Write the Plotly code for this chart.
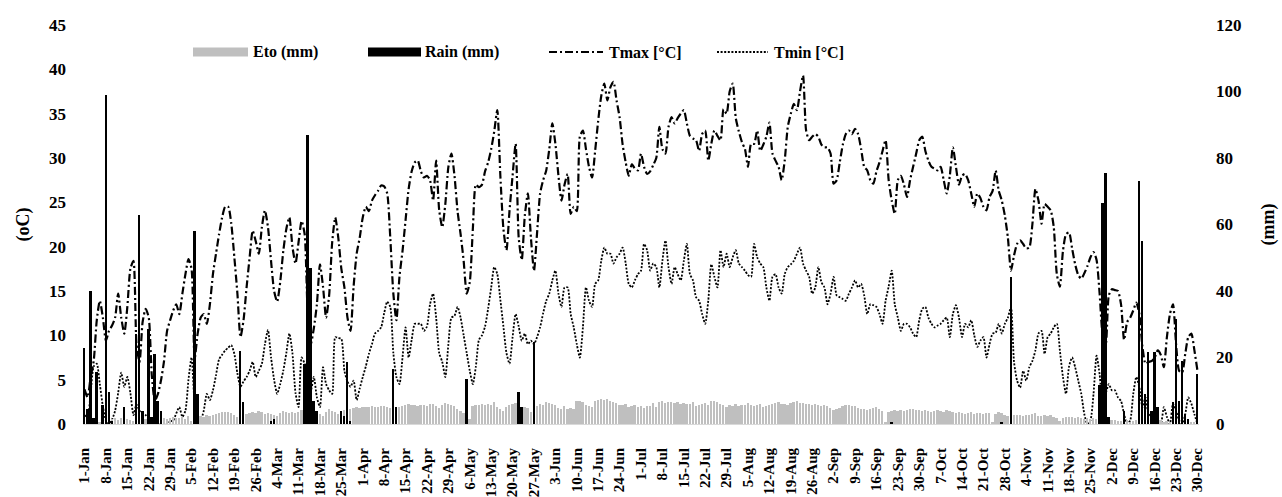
import pandas as pd
import plotly.graph_objects as go

# ---------------- data ----------------
START = "2020-01-01"
N_DAYS = 365
DATES = pd.date_range(START, periods=N_DAYS, freq="D")

TMAX = [
    3.9, 3.0, 5.3, 7.1, 11.7, 13.9, 12.0, 9.4, 10.5, 11.1,
    12.0, 14.7, 12.0, 10.2, 13.2, 17.5, 18.4, 9.0, 7.0, 11.5,
    13.0, 12.0, 5.5, 2.6, 3.4, 4.9, 7.1, 10.5, 11.7, 12.8,
    13.5, 12.4, 14.7, 16.9, 18.6, 17.5, 7.3, 10.2, 12.0, 12.4,
    11.3, 13.5, 16.9, 19.2, 21.4, 23.3, 24.5, 24.5, 22.6, 18.8,
    14.7, 9.8, 11.7, 15.4, 18.8, 21.8, 20.6, 19.2, 22.2, 24.1,
    22.2, 18.4, 15.0, 13.8, 16.0, 19.5, 22.0, 23.3, 20.0, 18.1,
    20.5, 22.9, 21.4, 12.4, 9.0, 10.8, 13.5, 18.0, 15.5, 12.0,
    14.5, 20.5, 23.3, 21.0, 17.5, 15.4, 12.0, 10.5, 15.5, 19.2,
    21.0, 23.3, 24.5, 24.0, 25.2, 25.8, 26.3, 26.9, 26.8, 26.0,
    21.0, 14.7, 11.7, 16.6, 19.5, 23.0, 26.5, 28.5, 29.5, 29.7,
    28.5, 27.8, 28.0, 27.5, 25.2, 29.7, 24.1, 22.2, 24.8, 29.0,
    30.5, 28.0, 24.0, 21.4, 18.4, 14.7, 16.0, 22.0, 27.0, 26.7,
    27.0, 28.5, 29.5, 31.0, 33.0, 35.4, 28.0, 22.0, 19.6, 24.1,
    28.0, 31.6, 21.0, 18.5, 23.5, 26.0, 21.0, 17.3, 21.5, 26.0,
    27.5, 28.6, 31.0, 33.9, 31.6, 28.0, 25.2, 27.0, 28.2, 23.7,
    24.5, 24.0, 32.4, 33.1, 31.0, 29.0, 27.8, 30.8, 34.2, 37.0,
    38.4, 36.5, 38.0, 38.6, 36.5, 34.6, 31.5, 29.5, 28.0, 29.3,
    28.8, 28.6, 30.5, 29.0, 28.2, 28.5, 29.2, 30.0, 33.5, 31.0,
    30.5, 33.5, 34.6, 33.9, 34.5, 35.0, 35.4, 33.9, 32.5, 32.2,
    32.0, 30.8, 32.7, 33.1, 29.7, 31.6, 33.1, 32.5, 32.0, 35.5,
    35.0, 37.5, 38.4, 34.5, 33.0, 31.8, 31.0, 29.0, 31.6, 31.6,
    33.1, 30.8, 31.5, 32.4, 34.0, 30.5, 29.7, 29.0, 27.5, 29.7,
    33.5, 35.0, 36.1, 35.4, 37.5, 39.3, 33.1, 32.0, 32.4, 32.7,
    32.4, 31.5, 31.2, 31.2, 30.5, 27.1, 27.5, 29.5, 31.5, 32.7,
    33.1, 32.7, 33.3, 32.7, 31.0, 29.0, 28.6, 27.5, 27.1, 28.5,
    29.5, 30.8, 32.0, 27.5, 25.2, 23.7, 27.5, 28.0, 27.0, 25.6,
    27.5, 29.0, 30.5, 32.0, 32.4, 30.8, 29.7, 29.0, 28.8, 28.6,
    29.0, 27.5, 26.0, 28.0, 31.2, 29.0, 27.0, 28.0, 28.2, 27.5,
    26.0, 24.5, 26.0, 25.5, 24.5, 24.1, 25.6, 26.3, 28.6, 26.3,
    25.2, 23.5, 21.0, 17.3, 19.0, 20.3, 20.7, 20.3, 19.8, 19.9,
    22.5, 26.5, 25.2, 22.6, 24.8, 24.5, 24.1, 22.2, 16.9, 15.5,
    19.5, 21.4, 21.6, 19.8, 18.0, 16.8, 16.4, 17.0, 17.8, 18.8,
    19.4, 18.5, 14.7, 10.0, 9.0, 14.5, 15.2, 15.1, 15.0, 13.5,
    9.5, 11.5, 12.0, 12.8, 13.7, 12.4, 8.7, 6.8, 7.0, 7.1,
    7.5, 8.3, 7.8, 6.4, 9.8, 12.4, 13.5, 9.0, 6.0, 5.8,
    7.9, 9.8, 10.2, 8.3, 6.0,
]

TMIN = [
    1.0, 0.8, 3.5, 6.5, 6.8, 4.5, 2.0, 0.4, 0.0, 0.5,
    1.5, 3.5, 5.8, 4.2, 5.3, 3.5, 1.0, 2.2, 1.5, 1.2,
    1.0, 0.6, 0.4, 0.1, 0.0, 0.0, 0.1, 0.2, 0.3, 0.4,
    1.2, 1.9, 0.8, 1.5, 5.0, 7.5, 2.3, 0.0, 0.4, 1.5,
    3.4, 2.7, 3.8, 5.5, 7.3, 7.8, 8.3, 8.6, 8.9, 7.9,
    5.7, 4.2, 4.8, 5.3, 6.0, 7.0, 5.3, 6.0, 6.8, 9.0,
    10.6, 7.5, 5.0, 3.4, 4.5, 6.0, 8.0, 10.2, 8.0, 3.5,
    1.9, 7.5, 6.8, 4.5, 3.8, 5.3, 3.0, 1.9, 6.4, 4.5,
    3.8, 3.4, 9.8, 9.7, 9.6, 6.0, 4.8, 4.2, 4.9, 2.7,
    4.0, 5.3, 6.5, 7.9, 9.0, 10.2, 10.5, 10.9, 12.5, 13.8,
    13.2, 8.0, 5.3, 4.5, 7.5, 10.9, 7.5, 9.5, 11.3, 11.3,
    11.3, 10.5, 11.0, 13.5, 14.7, 12.0, 8.0, 7.0, 5.3, 9.0,
    12.0, 12.2, 13.2, 12.0, 10.0, 8.0, 6.0, 4.5, 6.5, 9.5,
    10.0, 11.0, 13.0, 15.4, 17.7, 16.9, 14.0, 11.0, 8.0, 6.8,
    9.8, 12.4, 11.0, 9.4, 10.2, 9.0, 9.4, 9.0, 9.8, 10.9,
    12.5, 13.9, 14.7, 16.2, 17.3, 14.7, 13.2, 15.4, 15.4, 12.4,
    10.9, 9.0, 7.5, 10.9, 15.4, 13.9, 13.2, 15.8, 16.2, 18.4,
    19.9, 19.2, 19.2, 18.1, 18.8, 19.2, 19.9, 18.1, 15.8, 15.4,
    16.2, 16.9, 17.3, 20.3, 19.6, 17.3, 18.1, 17.7, 15.4, 18.4,
    20.7, 17.7, 15.8, 17.7, 16.9, 16.2, 18.4, 20.3, 16.9, 16.2,
    14.3, 13.9, 12.4, 11.3, 13.9, 18.0, 16.6, 15.4, 19.6, 17.7,
    19.2, 17.7, 18.8, 19.6, 18.1, 17.7, 17.3, 16.8, 16.6, 20.3,
    18.8, 18.1, 17.7, 15.4, 13.9, 16.6, 16.9, 15.4, 14.7, 16.9,
    17.7, 18.0, 18.4, 19.2, 19.9, 18.1, 17.3, 16.6, 14.7, 15.4,
    17.7, 16.0, 15.4, 13.5, 14.7, 16.6, 14.5, 14.3, 14.1, 13.9,
    14.7, 15.4, 16.2, 15.4, 15.8, 14.5, 12.4, 13.5, 13.4, 13.2,
    12.4, 11.3, 13.9, 15.5, 17.3, 13.5, 12.0, 10.5, 11.3, 11.3,
    10.9, 10.2, 9.8, 11.7, 13.0, 13.2, 12.0, 11.3, 10.9, 11.1,
    11.3, 11.7, 12.0, 9.8, 12.4, 13.4, 12.0, 9.8, 11.3, 10.9,
    11.7, 10.0, 8.7, 9.4, 9.8, 7.5, 9.0, 10.2, 10.3, 11.3,
    10.2, 11.3, 12.0, 13.2, 7.0, 4.9, 4.1, 6.0, 4.9, 6.4,
    7.1, 8.3, 10.2, 10.5, 7.9, 9.8, 10.2, 10.9, 11.3, 8.3,
    5.3, 3.4, 6.5, 7.5, 6.4, 4.9, 3.4, 1.1, 0.0, 0.4,
    3.4, 7.7, 5.6, 1.9, 3.4, 4.5, 3.8, 3.8, 3.0, 2.6,
    1.1, 0.0, 0.4, 3.4, 5.3, 4.1, 1.9, 3.0, 1.1, 0.8,
    0.4, 0.0, 0.0, 1.9, 0.8, 0.0, 2.3, 1.5, 0.4, 0.0,
    1.1, 3.0, 2.3, 1.1, 0.0,
]

ETO = [
    1.2, 0.8, 1.5, 1.0, 1.4, 0.6, 1.3,
    0.5, 1.6, 1.4, 1.8, 1.2, 1.7, 1.9,
    1.5, 1.3, 0.8, 1.2, 1.6, 1.0, 1.4,
    0.6, 0.9, 1.5, 1.7, 1.4, 1.9, 1.6,
    1.8, 2.0, 1.7, 1.9, 2.2, 1.5, 2.4,
    0.8, 1.2, 1.9, 2.3, 2.1, 2.6, 2.4,
    2.8, 3.0, 3.3, 3.6, 3.7, 3.5, 3.2,
    2.6, 2.2, 2.0, 2.5, 3.0, 3.3, 3.6,
    3.2, 3.8, 3.5, 3.0, 3.4, 3.1, 2.6,
    2.4, 3.4, 3.8, 3.6, 3.2, 3.5, 3.3,
    3.7, 4.1, 2.5, 1.5, 3.0, 3.8, 3.5,
    2.9, 2.5, 3.5, 4.6, 4.0, 3.5, 3.0,
    3.6, 4.2, 1.8, 4.6, 4.9, 5.0, 4.8,
    5.1, 5.0, 5.2, 5.3, 5.0, 5.2, 5.4,
    5.4, 5.2, 4.8, 1.6, 4.5, 5.0, 5.3,
    5.7, 5.9, 5.6, 5.8, 5.4, 5.7, 5.6,
    5.5, 5.9, 6.0, 5.4, 4.8, 5.6, 6.2,
    6.0, 5.8, 5.3, 4.5, 4.0, 3.2, 0.8,
    1.5, 5.5, 5.8, 5.6, 5.9, 5.7, 6.0,
    5.6, 6.5, 5.2, 4.5, 3.8, 5.0, 5.6,
    5.9, 6.4, 2.5, 3.2, 5.0, 4.8, 3.5,
    1.2, 5.5, 6.0, 5.8, 6.5, 6.3, 5.9,
    5.6, 4.8, 4.5, 5.5, 4.6, 4.7, 4.6,
    7.0, 6.8, 6.5, 5.8, 5.4, 5.2, 6.8,
    7.3, 7.5, 7.2, 7.6, 7.0, 6.5, 6.2,
    5.8, 5.6, 5.9, 5.2, 5.5, 5.8, 5.0,
    5.4, 4.8, 5.3, 5.5, 6.2, 5.0, 6.6,
    6.8, 6.4, 6.6, 6.7, 6.3, 6.5, 6.0,
    6.2, 5.9, 6.1, 6.6, 5.4, 5.6, 6.1,
    6.3, 5.8, 6.9, 7.0, 6.6, 5.9, 5.8,
    5.2, 5.6, 5.4, 6.0, 5.4, 5.8, 5.6,
    6.3, 5.7, 5.3, 5.6, 6.0, 5.1, 5.4,
    5.6, 5.9, 6.3, 6.5, 6.0, 5.9, 5.6,
    6.3, 6.6, 6.9, 6.2, 6.4, 6.1, 6.0,
    5.6, 5.9, 5.8, 5.4, 5.7, 5.3, 4.8,
    4.2, 4.4, 4.8, 5.4, 5.8, 5.6, 5.5,
    5.4, 4.7, 4.6, 4.5, 4.3, 4.6, 4.9,
    5.0, 4.4, 4.0, 0.6, 3.5, 4.0, 4.2,
    3.9, 4.2, 3.8, 4.3, 4.6, 4.4, 4.3,
    4.1, 4.0, 4.2, 3.8, 3.5, 3.9, 4.2,
    4.0, 3.7, 4.1, 3.9, 3.5, 3.2, 3.5,
    3.3, 3.0, 3.2, 3.5, 3.1, 3.3, 3.4,
    3.0, 3.2, 3.4, 0.5, 3.0, 3.6, 3.2,
    2.8, 2.5, 0.6, 2.8, 2.6, 2.7, 2.5,
    2.8, 2.6, 2.9, 3.2, 2.4, 2.5, 2.7,
    2.3, 2.6, 2.2, 1.8, 0.8, 1.7, 2.0,
    2.2, 2.0, 1.8, 2.0, 1.9, 1.6, 1.7,
    1.5, 1.8, 1.6, 1.9, 1.4, 1.2, 1.5,
    1.3, 1.2, 1.0, 0.8, 1.4, 1.1, 0.6,
    0.9, 1.2, 0.8, 1.4, 1.0, 0.5, 0.7,
    0.6, 0.8, 1.1, 0.5, 0.9, 0.7, 1.0,
    0.4, 0.8, 0.6, 0.9, 0.5, 0.7, 0.4,
    0.6,
]

RAIN_DATES = [
    "2020-01-01", "2020-01-02", "2020-01-03", "2020-01-04", "2020-01-05",
    "2020-01-07", "2020-01-08", "2020-01-09", "2020-01-10", "2020-01-14",
    "2020-01-18", "2020-01-19", "2020-01-20", "2020-01-22", "2020-01-23",
    "2020-01-24", "2020-01-25", "2020-01-26", "2020-02-06", "2020-02-07",
    "2020-02-21", "2020-02-22", "2020-03-02", "2020-03-03", "2020-03-13",
    "2020-03-14", "2020-03-15", "2020-03-16", "2020-03-17", "2020-03-25",
    "2020-03-26", "2020-03-27", "2020-03-28", "2020-04-11", "2020-04-12",
    "2020-05-05", "2020-05-22", "2020-05-23", "2020-05-27", "2020-09-21",
    "2020-10-27", "2020-10-30", "2020-11-28", "2020-11-29", "2020-11-30",
    "2020-12-01", "2020-12-06", "2020-12-11", "2020-12-12", "2020-12-13",
    "2020-12-14", "2020-12-15", "2020-12-16", "2020-12-17", "2020-12-22",
    "2020-12-23", "2020-12-24", "2020-12-25", "2020-12-26", "2020-12-27",
    "2020-12-30",
]
RAIN_MM = [
    23.0, 4.6, 40.0, 1.8, 15.6,
    5.6, 99.0, 9.6, 1.0, 5.0,
    27.0, 63.0, 4.0, 28.7, 2.0,
    21.0, 7.0, 4.0, 58.0, 9.0,
    22.0, 6.6, 1.0, 1.5, 18.0,
    87.0, 47.0, 7.0, 4.0, 4.0,
    2.5, 18.6, 1.0, 16.6, 5.0,
    13.6, 9.6, 5.0, 24.7, 0.5,
    0.5, 44.3, 11.6, 66.4, 75.4,
    2.0, 4.0, 73.0, 55.0, 9.0,
    21.7, 4.0, 21.7, 5.0, 6.6,
    31.7, 7.0, 19.0, 3.0, 1.5,
    15.0,
]

TICK_LABELS = [
    "1-Jan", "8-Jan", "15-Jan", "22-Jan", "29-Jan", "5-Feb", "12-Feb", "19-Feb",
    "26-Feb", "4-Mar", "11-Mar", "18-Mar", "25-Mar", "1-Apr", "8-Apr", "15-Apr",
    "22-Apr", "29-Apr", "6-May", "13-May", "20-May", "27-May", "3-Jun", "10-Jun",
    "17-Jun", "24-Jun", "1-Jul", "8-Jul", "15-Jul", "22-Jul", "29-Jul", "5-Aug",
    "12-Aug", "19-Aug", "26-Aug", "2-Sep", "9-Sep", "16-Sep", "23-Sep", "30-Sep",
    "7-Oct", "14-Oct", "21-Oct", "28-Oct", "4-Nov", "11-Nov", "18-Nov", "25-Nov",
    "2-Dec", "9-Dec", "16-Dec", "23-Dec", "30-Dec",
]
TICK_DATES = DATES[::7]

LEGEND_NAMES = ["Eto (mm)", "Rain (mm)", "Tmax [°C]", "Tmin [°C]"]

# ---------------- style ----------------
FONT = "Liberation Serif, Times New Roman, serif"
DAY_MS = 86400000
BAR_W = 0.6 * DAY_MS
ETO_COLOR = "#bfbfbf"
TMAX_DASH = "8px,3px,2px,3px"
TMIN_DASH = "2px,1.6px"
ML, MR, MT, MB = 83, 83, 25, 73

fig = go.Figure()

fig.add_trace(go.Bar(x=DATES, y=ETO, yaxis="y2", width=BAR_W,
                     marker=dict(color=ETO_COLOR, line=dict(width=0)),
                     name=LEGEND_NAMES[0], showlegend=False))
fig.add_trace(go.Bar(x=pd.to_datetime(RAIN_DATES), y=RAIN_MM, yaxis="y2", width=BAR_W,
                     marker=dict(color="black", line=dict(width=0)),
                     name=LEGEND_NAMES[1], showlegend=False))
fig.add_trace(go.Scatter(x=DATES, y=TMAX, mode="lines", name=LEGEND_NAMES[2],
                         line=dict(color="black", width=2.2, dash=TMAX_DASH,
                                   shape="spline", smoothing=0.6),
                         showlegend=False))
fig.add_trace(go.Scatter(x=DATES, y=TMIN, mode="lines", name=LEGEND_NAMES[3],
                         line=dict(color="black", width=1.8, dash=TMIN_DASH,
                                   shape="spline", smoothing=0.6),
                         showlegend=False))

tick_font = dict(family=FONT, size=17, color="black", weight="bold")
xtick_font = dict(family=FONT, size=15, color="black", weight="bold")
title_font = dict(family=FONT, size=18, color="black", weight="bold")

fig.update_layout(
    width=1282, height=497,
    margin=dict(l=ML, r=MR, t=MT, b=MB, autoexpand=False),
    paper_bgcolor="white", plot_bgcolor="white",
    barmode="overlay", bargap=0,
    xaxis=dict(
        type="date", automargin=False,
        range=[DATES[0] - pd.Timedelta(hours=12), DATES[-1] + pd.Timedelta(hours=12)],
        tickmode="array", tickvals=TICK_DATES, ticktext=TICK_LABELS,
        tickangle=-90, tickfont=xtick_font, showgrid=False, zeroline=False,
        showline=True, linecolor="#d9d9d9", linewidth=1, ticks="",
        ticklabelstandoff=17,
    ),
    yaxis=dict(
        range=[0, 45], dtick=5, tickfont=tick_font, showgrid=False, zeroline=False,
        showline=False, ticks="", ticklabelstandoff=16, automargin=False,
        title=dict(text="(oC)", font=title_font, standoff=14),
    ),
    yaxis2=dict(
        range=[0, 120], dtick=20, overlaying="y", side="right", tickfont=tick_font,
        showgrid=False, zeroline=False, showline=False, ticks="", ticklabelstandoff=16,
        automargin=False,
        title=dict(text="(mm)", font=title_font, standoff=20),
    ),
)

# ---------------- custom legend ----------------
W_PLOT = 1282 - ML - MR
H_PLOT = 497 - MT - MB


def px_x(px):
    return (px - ML) / W_PLOT


def px_y(py):
    return (497 - MB - py) / H_PLOT


LEG_Y = 52
legend_font = dict(family=FONT, size=16, color="black", weight="bold")
for (x0, x1), color in [((193, 248), ETO_COLOR), ((368, 421), "black")]:
    fig.add_shape(type="rect", xref="paper", yref="paper",
                  x0=px_x(x0), x1=px_x(x1), y0=px_y(LEG_Y + 4.5), y1=px_y(LEG_Y - 4.5),
                  fillcolor=color, line=dict(width=0))
for (x0, x1), dash, w in [((549, 603), TMAX_DASH, 2.2), ((717, 768), TMIN_DASH, 1.8)]:
    fig.add_shape(type="line", xref="paper", yref="paper",
                  x0=px_x(x0), x1=px_x(x1), y0=px_y(LEG_Y), y1=px_y(LEG_Y),
                  line=dict(color="black", width=w, dash=dash))
for name, xl in zip(LEGEND_NAMES, [251, 423, 607, 772]):
    fig.add_annotation(xref="paper", yref="paper", x=px_x(xl), y=px_y(LEG_Y),
                       xanchor="left", yanchor="middle", text=name, showarrow=False,
                       font=legend_font)

fig.write_html("out.html")
